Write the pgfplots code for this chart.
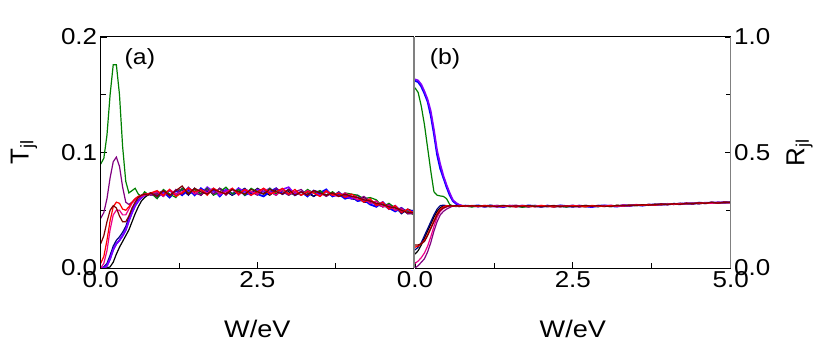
\documentclass[border=0pt]{standalone}
\usepackage{fontspec}
\setmainfont{Liberation Sans}
\newfontfamily\tickfont[FakeStretch=1.13]{Liberation Sans}
\usepackage{pgfplots}
\usepackage{pgfplotstable}
\pgfplotsset{compat=1.18}

\definecolor{cnavy}{RGB}{0,0,128}
\definecolor{cgreen}{RGB}{0,128,0}
\definecolor{cpurple}{RGB}{128,0,128}
\definecolor{cviolet}{RGB}{128,0,255}
\definecolor{cmaroon}{RGB}{128,0,0}
\definecolor{cblue}{RGB}{0,0,255}
\definecolor{spine}{RGB}{128,128,128}

% columns: black red blue green navy purple violet magenta maroon
\pgfplotstableread{
W    k     r     b     g     n     p     v     m     d
0.00 0.000 0.004 0.000 0.090 0.000 0.043 0.000 0.000 0.021
0.05 0.000 0.010 0.000 0.095 0.001 0.048 0.000 0.004 0.028
0.10 0.000 0.024 0.002 0.115 0.004 0.060 0.002 0.015 0.040
0.15 0.001 0.041 0.008 0.150 0.011 0.078 0.008 0.033 0.050
0.20 0.005 0.053 0.016 0.176 0.019 0.092 0.016 0.046 0.054
0.25 0.012 0.057 0.021 0.176 0.024 0.096 0.021 0.050 0.052
0.30 0.018 0.056 0.024 0.150 0.027 0.088 0.024 0.050 0.045
0.35 0.023 0.051 0.028 0.105 0.031 0.070 0.028 0.046 0.040
0.40 0.028 0.050 0.033 0.075 0.036 0.057 0.033 0.046 0.040
0.45 0.033 0.053 0.041 0.065 0.044 0.055 0.041 0.051 0.045
0.50 0.040 0.057 0.048 0.067 0.050 0.057 0.048 0.056 0.052
0.55 0.047 0.060 0.054 0.069 0.055 0.060 0.054 0.059 0.057
0.60 0.053 0.062 0.058 0.064 0.059 0.062 0.058 0.061 0.061
0.65 0.058 0.063 0.061 0.062 0.062 0.063 0.061 0.062 0.063
0.70 0.061 0.064 0.063 0.066 0.063 0.064 0.063 0.063 0.064
0.75 0.063 0.064 0.064 0.064 0.064 0.064 0.064 0.064 0.063
0.80 0.064 0.065 0.064 0.065 0.064 0.063 0.065 0.064 0.065
0.9 0.064 0.067 0.062 0.060 0.066 0.064 0.061 0.066 0.062
1.0 0.067 0.063 0.066 0.068 0.062 0.067 0.065 0.062 0.067
1.1 0.062 0.068 0.061 0.064 0.067 0.062 0.067 0.068 0.063
1.2 0.067 0.062 0.067 0.061 0.064 0.068 0.063 0.064 0.067
1.3 0.068 0.065 0.063 0.069 0.068 0.064 0.069 0.066 0.071
1.4 0.064 0.069 0.068 0.065 0.063 0.070 0.066 0.069 0.064
1.5 0.069 0.066 0.063 0.068 0.069 0.065 0.068 0.064 0.069
1.6 0.063 0.068 0.069 0.064 0.064 0.063 0.064 0.068 0.066
1.7 0.068 0.063 0.065 0.069 0.066 0.068 0.070 0.065 0.064
1.8 0.064 0.069 0.068 0.063 0.069 0.064 0.066 0.069 0.068
1.9 0.069 0.066 0.062 0.066 0.064 0.069 0.063 0.064 0.066
2.0 0.066 0.064 0.068 0.070 0.068 0.063 0.068 0.066 0.064
2.1 0.063 0.069 0.064 0.064 0.063 0.068 0.064 0.069 0.068
2.2 0.068 0.064 0.069 0.068 0.066 0.064 0.069 0.063 0.066
2.3 0.066 0.068 0.063 0.063 0.069 0.068 0.066 0.068 0.064
2.4 0.064 0.063 0.066 0.069 0.064 0.066 0.063 0.066 0.068
2.5 0.069 0.066 0.064 0.066 0.068 0.063 0.068 0.064 0.066
2.6 0.066 0.069 0.062 0.064 0.064 0.068 0.066 0.069 0.064
2.7 0.063 0.064 0.066 0.069 0.066 0.064 0.069 0.066 0.068
2.8 0.068 0.066 0.069 0.064 0.063 0.069 0.064 0.063 0.066
2.9 0.064 0.069 0.064 0.068 0.068 0.066 0.068 0.068 0.064
3.0 0.066 0.064 0.068 0.063 0.064 0.063 0.070 0.064 0.068
3.1 0.063 0.068 0.063 0.066 0.066 0.066 0.064 0.066 0.063
3.2 0.066 0.063 0.066 0.063 0.063 0.068 0.066 0.063 0.066
3.3 0.065 0.066 0.062 0.068 0.067 0.063 0.063 0.067 0.063
3.4 0.062 0.065 0.067 0.065 0.062 0.067 0.066 0.065 0.067
3.5 0.067 0.062 0.065 0.067 0.065 0.065 0.063 0.062 0.065
3.6 0.063 0.067 0.068 0.063 0.066 0.062 0.067 0.066 0.063
3.7 0.065 0.063 0.062 0.066 0.062 0.065 0.063 0.063 0.065
3.8 0.062 0.065 0.064 0.062 0.066 0.063 0.065 0.062 0.062
3.9 0.064 0.061 0.060 0.065 0.061 0.063 0.062 0.065 0.064
4.0 0.060 0.064 0.062 0.064 0.060 0.062 0.060 0.062 0.062
4.1 0.059 0.061 0.058 0.063 0.061 0.059 0.063 0.059 0.061
4.2 0.061 0.057 0.059 0.060 0.057 0.062 0.058 0.060 0.059
4.3 0.056 0.060 0.055 0.061 0.057 0.058 0.058 0.056 0.058
4.4 0.058 0.054 0.053 0.059 0.056 0.055 0.054 0.058 0.056
4.5 0.053 0.057 0.057 0.053 0.055 0.053 0.057 0.053 0.055
4.6 0.054 0.051 0.052 0.056 0.051 0.055 0.051 0.054 0.053
4.7 0.050 0.054 0.049 0.052 0.053 0.050 0.054 0.050 0.052
4.8 0.051 0.048 0.052 0.051 0.047 0.052 0.049 0.051 0.050
4.9 0.047 0.051 0.048 0.049 0.051 0.047 0.050 0.048 0.048
5.0 0.048 0.047 0.050 0.046 0.049 0.047 0.048 0.049 0.048
}\Tdata

\pgfplotstableread{
W    k     r     b     g     n     p     v     m     d
0.00 0.060 0.090 0.810 0.780 0.078 0.000 0.817 0.020 0.100
0.05 0.075 0.095 0.805 0.760 0.090 0.010 0.812 0.030 0.100
0.10 0.100 0.105 0.785 0.700 0.110 0.025 0.795 0.045 0.105
0.15 0.130 0.120 0.755 0.620 0.140 0.040 0.765 0.065 0.115
0.20 0.160 0.145 0.720 0.520 0.170 0.070 0.730 0.095 0.140
0.25 0.190 0.175 0.660 0.420 0.200 0.110 0.680 0.135 0.170
0.30 0.220 0.205 0.580 0.330 0.230 0.160 0.600 0.180 0.200
0.35 0.245 0.235 0.490 0.315 0.255 0.200 0.510 0.220 0.230
0.40 0.260 0.255 0.430 0.312 0.270 0.230 0.450 0.245 0.250
0.45 0.270 0.265 0.390 0.310 0.272 0.245 0.400 0.258 0.260
0.50 0.270 0.270 0.350 0.300 0.270 0.255 0.360 0.265 0.265
0.55 0.268 0.270 0.315 0.275 0.268 0.262 0.325 0.268 0.270
0.60 0.270 0.268 0.290 0.268 0.269 0.268 0.295 0.270 0.268
0.65 0.268 0.270 0.278 0.266 0.270 0.270 0.282 0.268 0.270
0.70 0.266 0.268 0.272 0.268 0.268 0.266 0.274 0.270 0.268
0.75 0.269 0.270 0.268 0.267 0.270 0.268 0.270 0.268 0.267
0.80 0.267 0.268 0.270 0.269 0.267 0.270 0.268 0.266 0.269
0.9 0.266 0.270 0.268 0.264 0.270 0.267 0.269 0.271 0.268
1.0 0.270 0.266 0.271 0.268 0.265 0.270 0.266 0.268 0.270
1.1 0.267 0.271 0.265 0.270 0.269 0.265 0.270 0.266 0.267
1.2 0.265 0.268 0.270 0.266 0.272 0.269 0.267 0.270 0.269
1.3 0.271 0.265 0.267 0.269 0.266 0.271 0.265 0.268 0.266
1.4 0.268 0.270 0.264 0.271 0.268 0.266 0.270 0.265 0.270
1.5 0.266 0.267 0.270 0.265 0.270 0.269 0.268 0.271 0.267
1.6 0.270 0.264 0.268 0.268 0.265 0.272 0.266 0.267 0.269
1.7 0.267 0.270 0.266 0.263 0.269 0.266 0.271 0.269 0.266
1.8 0.264 0.268 0.271 0.267 0.266 0.270 0.267 0.265 0.270
1.9 0.269 0.265 0.268 0.270 0.271 0.265 0.270 0.268 0.267
2.0 0.266 0.271 0.265 0.266 0.267 0.269 0.266 0.271 0.265
2.1 0.270 0.267 0.270 0.269 0.265 0.267 0.270 0.266 0.268
2.2 0.267 0.264 0.266 0.265 0.270 0.271 0.265 0.269 0.270
2.3 0.265 0.269 0.271 0.268 0.267 0.266 0.269 0.265 0.266
2.4 0.268 0.266 0.268 0.264 0.264 0.270 0.267 0.270 0.269
2.5 0.271 0.270 0.265 0.270 0.269 0.267 0.271 0.267 0.265
2.6 0.266 0.267 0.270 0.267 0.266 0.264 0.266 0.271 0.268
2.7 0.269 0.265 0.267 0.265 0.271 0.270 0.268 0.266 0.271
2.8 0.267 0.271 0.264 0.269 0.268 0.268 0.265 0.269 0.267
2.9 0.270 0.268 0.269 0.266 0.265 0.271 0.270 0.267 0.270
3.0 0.268 0.266 0.271 0.270 0.270 0.266 0.268 0.271 0.268
3.1 0.266 0.271 0.268 0.267 0.267 0.270 0.271 0.268 0.266
3.2 0.271 0.268 0.266 0.271 0.269 0.268 0.267 0.270 0.272
3.3 0.268 0.272 0.271 0.268 0.272 0.271 0.272 0.267 0.269
3.4 0.272 0.269 0.269 0.273 0.270 0.269 0.270 0.273 0.272
3.5 0.270 0.273 0.273 0.270 0.273 0.273 0.274 0.270 0.271
3.6 0.273 0.271 0.270 0.274 0.271 0.271 0.272 0.274 0.274
3.7 0.271 0.275 0.274 0.272 0.275 0.275 0.273 0.272 0.272
3.8 0.275 0.272 0.273 0.276 0.273 0.273 0.276 0.275 0.275
3.9 0.273 0.276 0.276 0.274 0.277 0.276 0.274 0.274 0.277
4.0 0.277 0.274 0.275 0.278 0.275 0.275 0.278 0.277 0.275
4.1 0.275 0.278 0.278 0.276 0.279 0.278 0.276 0.276 0.278
4.2 0.279 0.276 0.276 0.280 0.277 0.277 0.280 0.279 0.276
4.3 0.277 0.281 0.280 0.277 0.280 0.280 0.278 0.277 0.280
4.4 0.280 0.278 0.278 0.281 0.278 0.278 0.281 0.281 0.278
4.5 0.278 0.282 0.283 0.279 0.282 0.282 0.279 0.279 0.282
4.6 0.282 0.279 0.280 0.283 0.280 0.280 0.283 0.282 0.280
4.7 0.280 0.284 0.284 0.280 0.283 0.284 0.281 0.280 0.285
4.8 0.284 0.281 0.281 0.284 0.281 0.281 0.285 0.284 0.281
4.9 0.281 0.285 0.285 0.282 0.285 0.285 0.282 0.282 0.285
5.0 0.285 0.282 0.283 0.285 0.283 0.283 0.285 0.284 0.284
}\Rdata

\pgfplotsset{
  panel/.style={
    scale only axis, height=231pt,
    xmin=0, xmax=5,
    xtick={0,2.5,5}, minor x tick num=1,
    minor y tick num=1,
    tick align=inside, xtick pos=bottom,
    major tick length=6pt, minor tick length=5pt,
    every tick/.style={black, line width=0.8pt},
    axis line style={draw=none},
    /pgf/number format/assume math mode=true,
    /pgf/number format/fixed, /pgf/number format/fixed zerofill,
    /pgf/number format/precision=1,
    tick label style={font=\tickfont\fontsize{23}{27}\selectfont},
    xlabel={W/eV},
    every axis x label/.style={at={(axis description cs:0.5,0)}, anchor=center, yshift=-61pt,
      font=\tickfont\fontsize{24}{28}\selectfont},
    every axis plot/.append style={no markers, line width=1.2pt},
    clip=true,
  },
}

\newcommand{\curves}[1]{%
  \addplot[black]   table[x=W, y=k] {#1};
  \addplot[cnavy]   table[x=W, y=n] {#1};
  \addplot[cblue, line width=1.8pt]   table[x=W, y=b] {#1};
  \addplot[cviolet, line width=1.6pt] table[x=W, y=v] {#1};
  \addplot[cgreen]  table[x=W, y=g] {#1};
  \addplot[cpurple] table[x=W, y=p] {#1};
  \addplot[magenta] table[x=W, y=m] {#1};
  \addplot[red]     table[x=W, y=r] {#1};
  \addplot[cmaroon] table[x=W, y=d] {#1};
}

\begin{document}
\begin{tikzpicture}
\begin{axis}[panel, name=L, width=313.3pt,
    ymin=0, ymax=0.2, ytick={0,0.1,0.2}, ytick pos=left,
    xticklabels={0.0,2.5,{}},
    ylabel={T\textsubscript{jl}},
    every axis y label/.style={at={(axis description cs:-0.245,0.5)}, rotate=90, anchor=center, font=\fontsize{26}{30}\selectfont},
  ]
  \curves{\Tdata}
  \node[font=\tickfont\fontsize{22}{26}\selectfont] at (rel axis cs:0.125,0.905) {(a)};
\end{axis}
\begin{axis}[panel, name=R, width=315.7pt,
    at={(L.south east)}, anchor=south west, xshift=1pt,
    ymin=0, ymax=1, ytick={0,0.5,1}, ytick pos=right,
    xticklabels={0.0,2.5,5.0},
    ylabel={R\textsubscript{jl}},
    every axis y label/.style={at={(axis description cs:1.218,0.5)}, rotate=90, anchor=center, font=\fontsize{26}{30}\selectfont},
  ]
  \curves{\Rdata}
  \node[font=\tickfont\fontsize{22}{26}\selectfont] at (rel axis cs:0.095,0.905) {(b)};
\end{axis}
\draw[black, line width=1pt] (L.south east) -- (L.south west) -- (L.north west) -- (L.north east);
\draw[black, line width=1pt] (R.south west) -- (R.south east);
\draw[black, line width=1pt] (R.north west) -- (R.north east);
\draw[spine, line width=1.2pt] (L.south east) -- (L.north east);
\draw[spine, line width=1.2pt] (R.south east) -- (R.north east);
\path (L.south west) ++(-100.7pt,-83pt) rectangle ++(830pt,351pt);
\end{tikzpicture}
\end{document}
